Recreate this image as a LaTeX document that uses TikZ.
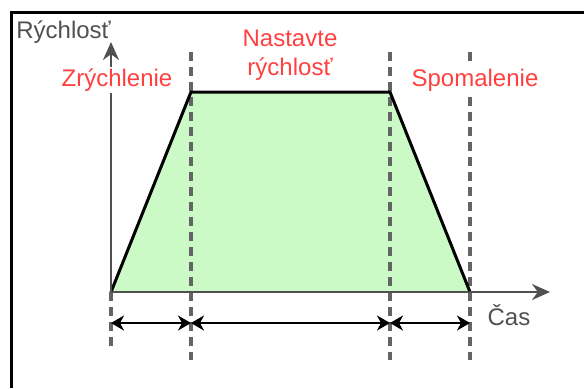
\documentclass[tikz,border=0pt]{standalone}
\usepackage{fontspec}
\setmainfont{Liberation Sans}
\usepackage{tikz}
\usetikzlibrary{arrows.meta, positioning}
\definecolor{fillgreen}{RGB}{204, 250, 198}
\definecolor{labelred}{RGB}{255, 64, 64}
\definecolor{guidegray}{RGB}{100, 100, 100}
\definecolor{axisgray}{RGB}{80, 80, 80}
\tikzstyle{phaselabel} = [text=labelred, fill=white, font=\fontsize{12}{14.5}\selectfont, align=center, inner sep=1pt]
\tikzstyle{axislabel} = [text=axisgray, font=\fontsize{12}{14.5}\selectfont, inner sep=0pt]
\tikzstyle{axis} = [draw=axisgray, line width=1pt, -{Stealth[length=9pt,width=8pt]}]
\tikzstyle{guide} = [draw=guidegray, line width=1.6pt, dash pattern=on 4.5pt off 3pt]
\tikzstyle{span} = [line width=0.9pt, {Stealth[length=6.5pt,width=7.5pt,inset=2pt]}-{Stealth[length=6.5pt,width=7.5pt,inset=2pt]}]
\tikzstyle{profile} = [draw=black, line width=1.5pt, line join=miter]
\begin{document}
\begin{tikzpicture}[x=0.5pt, y=-0.5pt]
    \useasboundingbox (0,0) rectangle (584,388);
    \draw[line width=1.5pt] (11,388) -- (11,12) -- (584,12);

    % corner points of the speed profile
    \coordinate (origin) at (111,292);
    \coordinate (accel) at (191,92);
    \coordinate (decel) at (390,92);
    \coordinate (stop) at (470,292);
    \coordinate (ytip) at (111,42);
    \coordinate (xtip) at (550,292);

    \fill[fillgreen] (origin) -- (accel) -- (decel) -- (stop) -- cycle;

    % phase boundaries
    \draw[guide] (111,292) -- (111,352);
    \draw[guide] (191,52) -- (191,360);
    \draw[guide] (390,52) -- (390,360);
    \draw[guide] (470,52) -- (470,360);

    \draw[profile] (origin) -- (accel) -- (decel) -- (stop);
    \draw[axis] (origin) -- (ytip);
    \draw[axis] (origin) -- (xtip);

    \node[phaselabel] (accelText) at (117,80) {Zrýchlenie};
    \node[phaselabel] (cruiseText) at (290,55) {Nastavte\\rýchlosť};
    \node[phaselabel] (decelText) at (475,80) {Spomalenie};
    \node[axislabel, anchor=west] (speedText) at (16,32) {Rýchlosť};
    \node[axislabel] (timeText) at (509,315) {Čas};

    % phase durations
    \coordinate (s0) at (111,323);
    \coordinate (s1) at (191,323);
    \coordinate (s2) at (390,323);
    \coordinate (s3) at (470,323);
    \draw[span] (s0) -- (s1);
    \draw[span] (s1) -- (s2);
    \draw[span] (s2) -- (s3);
\end{tikzpicture}
\end{document}
